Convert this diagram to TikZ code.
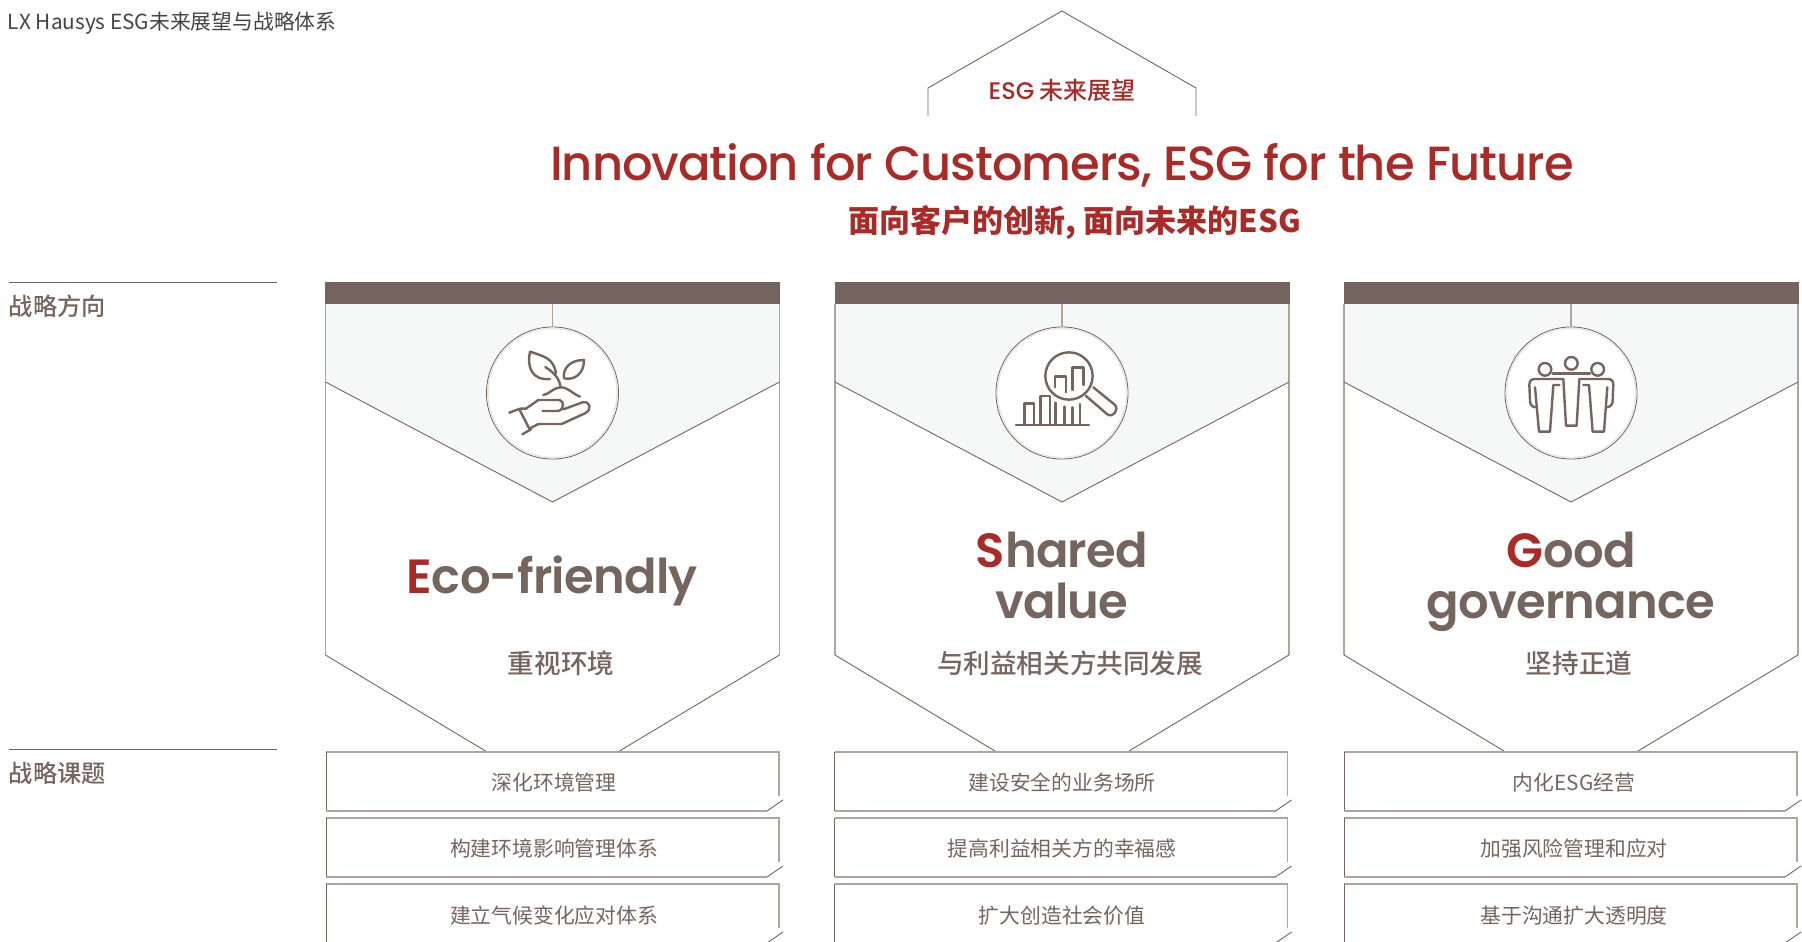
\documentclass[tikz,border=0pt]{standalone}
\usepackage{fontspec}
\setmainfont{Noto Sans}
\newfontfamily\cjk{Noto Sans CJK SC}
\newfontfamily\cjkm{Noto Sans CJK SC Medium}
\newfontfamily\pop{Poppins Medium}
\newfontfamily\popt[LetterSpace=-2.2]{Poppins Medium}
\newfontfamily\popn[LetterSpace=-1.5]{Poppins SemiBold}
\definecolor{brn}{HTML}{75655F}
\definecolor{lbrn}{HTML}{AEA5A1}
\definecolor{redd}{HTML}{A92B27}
\definecolor{pale}{HTML}{F6F8F7}
\definecolor{ttl}{HTML}{444444}
\newcommand{\fsz}[1]{\fontsize{#1}{#1}\selectfont}
\tikzset{
  txt/.style={inner sep=0pt,outer sep=0pt,align=center},
  thin line/.style={draw=brn,line width=0.9pt},
  side line/.style={draw=lbrn,line width=1.4pt},
  icon/.style={draw=brn,line width=2.4pt,line cap=round,line join=round},
  boxtxt/.style={txt,text=brn,font=\cjk\fsz{20.8}},
  subtxt/.style={txt,text=brn,font=\cjkm\fsz{26.6}},
  nametxt/.style={txt,anchor=base,text=brn,font=\popn\fsz{48}},
  sidetxt/.style={txt,anchor=west,text=brn,font=\cjkm\fsz{24.2}},
  disc/.style={circle,fill=white,draw=brn,line width=0.9pt,minimum size=132pt,inner sep=0pt},
  barbox/.style={fill=brn,draw=none,minimum width=455pt,minimum height=22pt,inner sep=0pt}
}
\newcommand{\panelshape}[2]{% left x, index
  \fill[pale] (#1,304) -- (#1+454,304) -- (#1+454,382) -- (#1+227,502) -- (#1,382) -- cycle;
  \draw[side line] (#1,304) -- (#1,655);
  \draw[side line] (#1+454,304) -- (#1+454,655);
  \draw[thin line] (#1,382) -- (#1+227,502) -- (#1+454,382);
  \draw[thin line] (#1,655) -- (#1+160,751);
  \draw[thin line] (#1+294,751) -- (#1+454,655);
  \node[barbox] (bar#2) at (#1+227,293) {};
  \node[disc] (disc#2) at (#1+227,393) {};
  \draw[side line,line width=1.2pt] (bar#2.south) -- (disc#2.north);
  \draw[draw=black!9,line width=1.6pt] (disc#2.center) circle[radius=64.6];
}
\newcommand{\slotbox}[2]{% left x, top y
  \draw[side line] (#1+453,#2+44) -- (#1+453,#2) -- (#1,#2);
  \draw[thin line] (#1,#2) -- (#1,#2+59);
  \draw[side line] (#1,#2+59) -- (#1+441,#2+59);
  \draw[thin line] (#1+441,#2+59) -- (#1+457,#2+48);
}
\begin{document}
\begin{tikzpicture}[x=1pt,y=-1pt]
\clip (0,0) rectangle (1802,942);
\fill[white] (0,0) rectangle (1802,942);
% header
\node[txt,anchor=west,text=ttl,font=\cjk\fsz{20.8}] (head) at (8,23) {LX Hausys ESG未来展望与战略体系};
\coordinate (hl) at (928,116); \coordinate (hr) at (1196,116);
\draw[thin line] (hl) -- (928,88) -- (1062,11) -- (1196,88) -- (hr);
\node[txt,text=redd,font=\cjkm\fsz{24}] (vis) at (1062,90.5) {{\pop ESG}\hspace{5pt}未来展望};
\node[txt,anchor=base,text=redd,font=\popt\fsz{48}] (main) at (1062,180) {Innovation for Customers, ESG for the Future};
\node[txt,text=redd,font=\cjk\bfseries\fsz{31}] (sub) at (1075,222.5) {面向客户的创新, 面向未来的ESG};
% left column
\coordinate (r1a) at (9,282); \coordinate (r1b) at (277,282);
\coordinate (r2a) at (9,749); \coordinate (r2b) at (277,749);
\draw[thin line] (r1a) -- (r1b);
\draw[thin line] (r2a) -- (r2b);
\node[sidetxt] (s1) at (9,306.5) {战略方向};
\node[sidetxt] (s2) at (9,773.5) {战略课题};
% panels
\panelshape{325.5}{1}
\panelshape{835}{2}
\panelshape{1344}{3}
% names
\node[nametxt] (n1) at (552,593) {\textcolor{redd}{E}co-friendly};
\node[nametxt] (n2a) at (1062,567) {\textcolor{redd}{S}hared};
\node[nametxt] (n2b) at (1062,618) {value};
\node[nametxt] (n3a) at (1571,567) {\textcolor{redd}{G}ood};
\node[nametxt] (n3b) at (1571,618) {governance};
\node[subtxt] (t1) at (561,663.5) {重视环境};
\node[subtxt] (t2) at (1070,663.5) {与利益相关方共同发展};
\node[subtxt] (t3) at (1579,663.5) {坚持正道};
% boxes
\foreach \xx in {326,834.5,1344}{
  \slotbox{\xx}{752}
  \slotbox{\xx}{818}
  \slotbox{\xx}{884}
}
\node[boxtxt] (b11) at (554,782.5) {深化环境管理};
\node[boxtxt] (b12) at (554,848.5) {构建环境影响管理体系};
\node[boxtxt] (b13) at (554,915.5) {建立气候变化应对体系};
\node[boxtxt] (b21) at (1062,782.5) {建设安全的业务场所};
\node[boxtxt] (b22) at (1062,848.5) {提高利益相关方的幸福感};
\node[boxtxt] (b23) at (1062,915.5) {扩大创造社会价值};
\node[boxtxt] (b31) at (1574,782.5) {内化ESG经营};
\node[boxtxt] (b32) at (1574,848.5) {加强风险管理和应对};
\node[boxtxt] (b33) at (1574,915.5) {基于沟通扩大透明度};
% icon 1
\begin{scope}[shift={(470,310)},x=0.3333pt,y=-0.3333pt]
\draw[icon] (180,125) .. controls (225,140) and (250,145) .. (258,190)
  (180,125) .. controls (170,170) and (185,212) .. (240,207);
\draw[icon] (226,171) .. controls (262,195) and (268,210) .. (272,232);
\draw[icon] (342,150) .. controls (300,150) and (278,175) .. (282,205) .. controls (315,212) and (342,190) .. (342,150) -- cycle;
\draw[icon] (220,255) .. controls (240,252) and (245,235) .. (272,232) .. controls (295,232) and (305,250) .. (330,260);
\draw[icon] (118,308) -- (150,296);
\draw[icon] (148,298) -- (180,360);
\draw[icon] (157,373) -- (183,358);
\draw[icon] (152,296) -- (168,296) -- (205,270) -- (268,270) .. controls (285,272) and (282,303) .. (262,303) -- (218,303);
\draw[icon] (280,298) -- (338,277) .. controls (360,272) and (368,298) .. (345,310) -- (275,342) -- (205,342) -- (180,355);
\end{scope}
% icon 2
\begin{scope}[shift={(960,310)},x=0.3333pt,y=-0.3333pt]
\draw[icon] (327,198) circle[x radius=71,y radius=71];
\draw[icon] (400,232) -- (465,285) .. controls (478,300) and (458,325) .. (442,313) -- (378,258);
\draw[icon] (285,232) -- (285,200) -- (318,200) -- (318,247);
\draw[icon] (338,240) -- (338,172) -- (370,172) -- (370,225);
\draw[icon] (168,345) -- (387,345);
\draw[icon] (193,345) -- (193,280) -- (222,280) -- (222,345);
\draw[icon] (242,345) -- (242,258) -- (270,258) -- (270,345);
\draw[icon] (287,278) -- (287,345);
\draw[icon] (314,290) -- (314,345);
\draw[icon] (337,292) -- (337,345);
\draw[icon] (360,282) -- (360,345);
\end{scope}
% icon 3
\begin{scope}[shift={(1470,310)},x=0.3333pt,y=-0.3333pt]
\draw[icon] (225,178) circle[x radius=19,y radius=19];
\draw[icon] (304,160) circle[x radius=19,y radius=19];
\draw[icon] (383,178) circle[x radius=19,y radius=19];
\draw[icon] (248,190) -- (360,190);
\draw[icon] (195,292) .. controls (182,288) and (180,282) .. (180,270) -- (178,225) .. controls (178,212) and (185,207) .. (195,207) -- (280,207) -- (288,347) -- (320,347) -- (328,207) -- (412,207) .. controls (425,207) and (430,212) .. (430,225) -- (428,270) .. controls (428,282) and (425,288) .. (412,292);
\draw[icon] (195,232) -- (207,365) -- (240,365) -- (250,225) -- (268,225);
\draw[icon] (412,232) -- (402,365) -- (368,365) -- (357,225) -- (340,225);
\end{scope}
\end{tikzpicture}
\end{document}
